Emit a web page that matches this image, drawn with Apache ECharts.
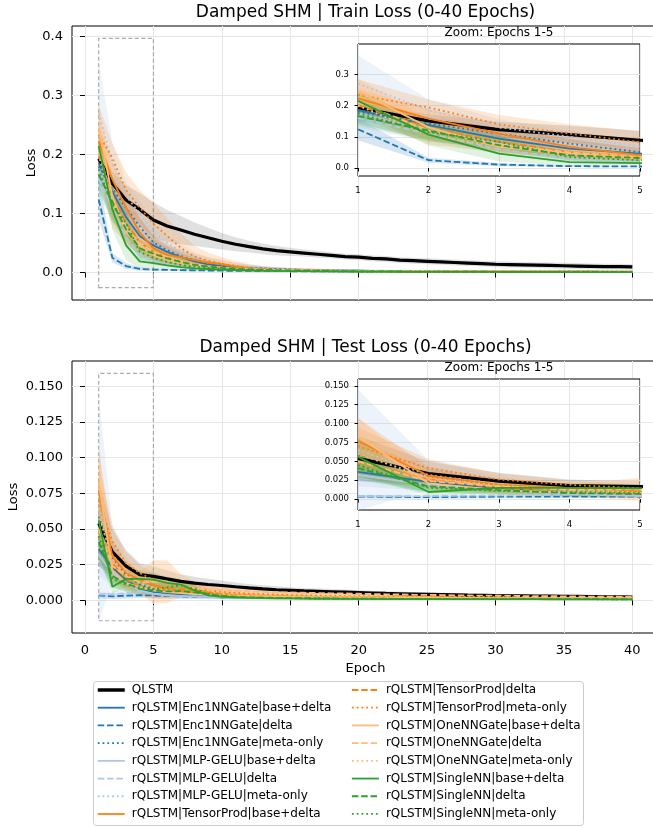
<!DOCTYPE html>
<html><head><meta charset="utf-8">
<script src="https://cdn.jsdelivr.net/npm/echarts@6/dist/echarts.min.js"></script>
<style>html,body{margin:0;padding:0;background:#fff}#c{width:653px;height:827px}</style>
</head><body><div id="c"></div>
<script>
// ---------------- DATA ----------------
const epochs = [1,2,3,4,5,6,7,8,9,10,11,12,13,14,15,16,17,18,19,20,21,22,23,24,25,26,27,28,29,30,31,32,33,34,35,36,37,38,39,40];
const NAMES = ['QLSTM','rQLSTM|Enc1NNGate|base+delta','rQLSTM|Enc1NNGate|delta','rQLSTM|Enc1NNGate|meta-only',
 'rQLSTM|MLP-GELU|base+delta','rQLSTM|MLP-GELU|delta','rQLSTM|MLP-GELU|meta-only','rQLSTM|TensorProd|base+delta',
 'rQLSTM|TensorProd|delta','rQLSTM|TensorProd|meta-only','rQLSTM|OneNNGate|base+delta','rQLSTM|OneNNGate|delta',
 'rQLSTM|OneNNGate|meta-only','rQLSTM|SingleNN|base+delta','rQLSTM|SingleNN|delta','rQLSTM|SingleNN|meta-only'];
const X_TICKS = [0,5,10,15,20,25,30,35,40];
const Y_TRAIN_TICKS = [0,0.1,0.2,0.3,0.4];
const Y_TEST_TICKS = [0,0.025,0.05,0.075,0.1,0.125,0.15];
const Y_TRAIN_ZOOM_TICKS = [0,0.1,0.2,0.3];
const Y_TEST_ZOOM_TICKS = [0,0.025,0.05,0.075,0.1,0.125,0.15];
const TRAIN_ZOOM_Y = [-0.0255,0.397];
const TEST_ZOOM_Y = [-0.0143,0.159];
const ZOOM_X = [1,5];

// ---- train loss (mean, sd) ----
const tr_QLSTM=[.193,.151,.123,.107,.089,.079,.072,.065,.059,.053,.048,.044,.040,.037,.035,.033,.031,.029,.027,.026,.024,.023,.021,.020,.019,.018,.017,.016,.015,.014,.0135,.013,.0125,.012,.0115,.011,.0105,.010,.010,.0095];
const trSd_QLSTM=[.018,.02,.025,.028,.03,.027,.024,.02,.017,.014,.012,.01,.009,.008,.007,.006,.006,.005,.005,.005,.005,.005,.005,.005,.005,.005,.005,.005,.005,.005,.005,.005,.005,.005,.005,.005,.005,.005,.005,.005];
const tr_EncBD=[.185,.137,.094,.062,.046,.035,.026,.019,.014,.011,.009,.0075,.0065,.0055,.005,.0045,.004,.0035,.0032,.003,.0028,.0026,.0024,.0022,.002,.002,.0019,.0018,.0017,.0016,.0016,.0015,.0015,.0014,.0014,.0013,.0013,.0012,.0012,.0012];
const trSd_EncBD=[.03,.02,.016,.013,.011,.009,.007,.006,.005,.004,.0035,.003,.0028,.0025,.0022,.002,.002,.0018,.0016,.0015,.0015,.0014,.0014,.0013,.0013,.0012,.0012,.0012,.0011,.0011,.0011,.001,.001,.001,.001,.001,.001,.001,.001,.001];
const tr_EncD=[.124,.025,.011,.006,.005,.0045,.004,.0037,.0034,.0031,.0029,.0027,.0025,.0023,.0022,.0021,.002,.0019,.0018,.0017,.0016,.0016,.0015,.0015,.0014,.0014,.0013,.0013,.0013,.0012,.0012,.0012,.0011,.0011,.0011,.001,.001,.001,.001,.001];
const trSd_EncD=[.035,.008,.005,.003,.0025,.002,.002,.0018,.0016,.0015,.0014,.0013,.0012,.0012,.0011,.0011,.001,.001,.001,.001,.001,.001,.001,.001,.001,.0009,.0009,.0009,.0009,.0009,.0009,.0009,.0008,.0008,.0008,.0008,.0008,.0008,.0008,.0008];
const tr_EncM=[.18,.142,.11,.078,.051,.038,.028,.021,.016,.012,.0095,.008,.0068,.0058,.005,.0045,.004,.0036,.0033,.003,.0028,.0026,.0024,.0022,.0021,.002,.0019,.0018,.0017,.0016,.0016,.0015,.0015,.0014,.0014,.0013,.0013,.0013,.0012,.0012];
const trSd_EncM=[.03,.022,.018,.015,.012,.01,.008,.006,.005,.004,.0035,.003,.0027,.0024,.0022,.002,.0019,.0018,.0017,.0016,.0015,.0014,.0014,.0013,.0013,.0012,.0012,.0012,.0011,.0011,.0011,.001,.001,.001,.001,.001,.001,.001,.001,.001];
const tr_MlpBD=[.175,.12,.078,.046,.03,.022,.016,.012,.009,.007,.006,.005,.0045,.004,.0035,.0032,.003,.0028,.0026,.0024,.0022,.002,.0019,.0018,.0017,.0016,.0015,.0015,.0014,.0014,.0013,.0013,.0012,.0012,.0012,.0011,.0011,.0011,.001,.001];
const trSd_MlpBD=[.035,.025,.018,.012,.009,.007,.006,.005,.004,.003,.0027,.0024,.0022,.002,.0019,.0018,.0017,.0016,.0015,.0014,.0014,.0013,.0013,.0012,.0012,.0011,.0011,.0011,.001,.001,.001,.001,.001,.001,.0009,.0009,.0009,.0009,.0009,.0009];
const tr_MlpD=[.16,.11,.06,.03,.02,.014,.01,.008,.0065,.0055,.0048,.0042,.0038,.0034,.003,.0028,.0026,.0024,.0022,.0021,.002,.0019,.0018,.0017,.0016,.0015,.0015,.0014,.0014,.0013,.0013,.0012,.0012,.0012,.0011,.0011,.0011,.001,.001,.001];
const trSd_MlpD=[.03,.025,.015,.01,.007,.005,.004,.003,.0025,.002,.0019,.0018,.0017,.0016,.0015,.0014,.0014,.0013,.0013,.0012,.0012,.0011,.0011,.0011,.001,.001,.001,.001,.001,.001,.0009,.0009,.0009,.0009,.0009,.0009,.0009,.0009,.0009,.0009];
const tr_MlpM=[.27,.185,.13,.10,.068,.05,.037,.027,.02,.015,.012,.0095,.008,.0068,.0058,.005,.0045,.004,.0037,.0034,.0031,.0029,.0027,.0025,.0024,.0022,.0021,.002,.0019,.0018,.0018,.0017,.0016,.0016,.0015,.0015,.0014,.0014,.0014,.0013];
const trSd_MlpM=[.09,.035,.025,.02,.017,.014,.011,.008,.006,.005,.004,.0035,.003,.0028,.0025,.0023,.0021,.002,.0019,.0018,.0017,.0016,.0015,.0015,.0014,.0014,.0013,.0013,.0012,.0012,.0012,.0011,.0011,.0011,.001,.001,.001,.001,.001,.001];
const tr_TpBD=[.223,.158,.11,.068,.041,.03,.026,.021,.017,.014,.01,.007,.0055,.0045,.004,.0036,.0033,.003,.0028,.0026,.0024,.0023,.0022,.0021,.002,.0019,.0019,.0018,.0018,.0017,.0017,.0016,.0016,.0016,.0015,.0015,.0015,.0015,.0014,.0014];
const trSd_TpBD=[.03,.03,.03,.025,.02,.016,.013,.011,.009,.008,.007,.006,.005,.004,.0035,.003,.003,.0025,.0025,.0025,.002,.002,.002,.002,.002,.0018,.0018,.0018,.0018,.0018,.0016,.0016,.0016,.0016,.0016,.0015,.0015,.0015,.0015,.0015];
const tr_TpD=[.20,.13,.084,.051,.035,.025,.018,.013,.01,.008,.0065,.0055,.0048,.0042,.0037,.0033,.003,.0028,.0026,.0024,.0022,.0021,.002,.0019,.0018,.0017,.0017,.0016,.0016,.0015,.0015,.0014,.0014,.0014,.0013,.0013,.0013,.0012,.0012,.0012];
const trSd_TpD=[.03,.025,.02,.015,.012,.009,.007,.005,.004,.0035,.003,.0027,.0024,.0022,.002,.0019,.0018,.0017,.0016,.0015,.0015,.0014,.0014,.0013,.0013,.0012,.0012,.0012,.0011,.0011,.0011,.001,.001,.001,.001,.001,.001,.001,.001,.001];
const tr_TpM=[.234,.194,.14,.11,.083,.062,.042,.027,.02,.015,.011,.008,.0058,.0048,.0042,.0037,.0034,.0031,.0029,.0027,.0026,.0025,.0024,.0023,.0022,.0021,.0021,.002,.002,.0019,.0019,.0018,.0018,.0018,.0017,.0017,.0017,.0016,.0016,.0016];
const trSd_TpM=[.05,.025,.03,.03,.035,.03,.025,.018,.014,.011,.009,.007,.005,.004,.0035,.003,.003,.0025,.0025,.0025,.0022,.0022,.002,.002,.002,.0019,.0019,.0018,.0018,.0018,.0017,.0017,.0016,.0016,.0016,.0015,.0015,.0015,.0015,.0015];
const tr_OneBD=[.246,.13,.068,.046,.03,.022,.016,.012,.009,.0075,.0063,.0054,.0047,.0041,.0036,.0032,.0029,.0027,.0025,.0023,.0021,.002,.0019,.0018,.0017,.0016,.0016,.0015,.0015,.0014,.0014,.0013,.0013,.0013,.0012,.0012,.0012,.0011,.0011,.0011];
const trSd_OneBD=[.04,.03,.02,.015,.01,.008,.006,.005,.004,.003,.0027,.0024,.0022,.002,.0019,.0018,.0017,.0016,.0015,.0014,.0014,.0013,.0013,.0012,.0012,.0011,.0011,.0011,.001,.001,.001,.001,.001,.001,.0009,.0009,.0009,.0009,.0009,.0009];
const tr_OneD=[.21,.12,.075,.05,.035,.026,.019,.014,.0105,.0085,.007,.006,.0052,.0045,.004,.0036,.0033,.003,.0028,.0026,.0024,.0023,.0022,.0021,.002,.0019,.0019,.0018,.0018,.0017,.0017,.0016,.0016,.0016,.0015,.0015,.0015,.0014,.0014,.0014];
const trSd_OneD=[.035,.03,.02,.015,.012,.009,.007,.005,.004,.0035,.003,.0027,.0024,.0022,.002,.0019,.0018,.0017,.0016,.0015,.0015,.0014,.0014,.0013,.0013,.0012,.0012,.0012,.0011,.0011,.0011,.001,.001,.001,.001,.001,.001,.001,.001,.001];
const tr_OneM=[.20,.105,.07,.045,.03,.022,.016,.012,.009,.0072,.006,.0051,.0044,.0039,.0035,.0031,.0028,.0026,.0024,.0022,.0021,.002,.0019,.0018,.0017,.0016,.0016,.0015,.0015,.0014,.0014,.0013,.0013,.0013,.0012,.0012,.0012,.0011,.0011,.0011];
const trSd_OneM=[.035,.03,.02,.015,.01,.008,.006,.005,.004,.003,.0027,.0024,.0022,.002,.0019,.0018,.0017,.0016,.0015,.0014,.0014,.0013,.0013,.0012,.0012,.0011,.0011,.0011,.001,.001,.001,.001,.001,.001,.0009,.0009,.0009,.0009,.0009,.0009];
const tr_SnBD=[.215,.107,.046,.019,.016,.012,.009,.007,.006,.005,.0043,.0037,.0032,.0028,.0025,.0022,.002,.0018,.0017,.0016,.0015,.0014,.0013,.0012,.0012,.0011,.0011,.001,.001,.001,.0009,.0009,.0009,.0009,.0008,.0008,.0008,.0008,.0008,.0007];
const trSd_SnBD=[.035,.035,.025,.012,.008,.006,.005,.004,.003,.0025,.0022,.002,.0018,.0016,.0015,.0014,.0013,.0012,.0012,.0011,.0011,.001,.001,.001,.001,.0009,.0009,.0009,.0009,.0009,.0008,.0008,.0008,.0008,.0008,.0008,.0007,.0007,.0007,.0007];
const tr_SnD=[.166,.12,.073,.041,.032,.024,.018,.013,.01,.008,.0065,.0055,.0047,.004,.0035,.0031,.0028,.0025,.0023,.0021,.0019,.0018,.0017,.0016,.0015,.0014,.0014,.0013,.0013,.0012,.0012,.0011,.0011,.0011,.001,.001,.001,.001,.0009,.0009];
const trSd_SnD=[.03,.03,.02,.015,.01,.008,.006,.005,.004,.003,.0027,.0024,.0022,.002,.0019,.0018,.0017,.0016,.0015,.0014,.0014,.0013,.0013,.0012,.0012,.0011,.0011,.0011,.001,.001,.001,.001,.001,.001,.0009,.0009,.0009,.0009,.0009,.0009];
const tr_SnM=[.175,.115,.084,.035,.025,.018,.013,.01,.008,.0063,.0052,.0044,.0038,.0033,.0029,.0026,.0023,.0021,.0019,.0018,.0017,.0016,.0015,.0014,.0013,.0013,.0012,.0012,.0011,.0011,.001,.001,.001,.001,.0009,.0009,.0009,.0009,.0008,.0008];
const trSd_SnM=[.03,.03,.02,.012,.009,.007,.005,.004,.003,.0025,.0022,.002,.0018,.0016,.0015,.0014,.0013,.0012,.0012,.0011,.0011,.001,.001,.001,.001,.0009,.0009,.0009,.0009,.0009,.0008,.0008,.0008,.0008,.0008,.0008,.0007,.0007,.0007,.0007];

// ---- test loss (mean, sd) ----
const te_QLSTM=[.054,.034,.024,.018,.0168,.015,.0133,.0121,.0111,.0104,.0095,.0087,.008,.0074,.007,.0066,.0063,.006,.0057,.0054,.0051,.0048,.0046,.0044,.0042,.004,.0038,.0036,.0035,.0033,.0032,.0031,.003,.0029,.0028,.0027,.0026,.0025,.0024,.0023];
const teSd_QLSTM=[.03,.016,.011,.008,.007,.006,.005,.0045,.004,.0035,.003,.0028,.0026,.0024,.0022,.002,.002,.0019,.0018,.0017,.0016,.0016,.0015,.0015,.0014,.0014,.0013,.0013,.0013,.0012,.0012,.0012,.0011,.0011,.0011,.001,.001,.001,.001,.001];
const te_EncBD=[.036,.023,.0145,.008,.006,.005,.0042,.0036,.0032,.0029,.0026,.0024,.0022,.002,.0019,.0018,.0017,.0016,.0016,.0015,.0015,.0014,.0014,.0014,.0013,.0013,.0013,.0012,.0012,.0012,.0012,.0011,.0011,.0011,.0011,.001,.001,.001,.001,.001];
const teSd_EncBD=[.012,.008,.005,.003,.0025,.002,.0018,.0016,.0015,.0014,.0013,.0012,.0011,.001,.001,.001,.0009,.0009,.0009,.0008,.0008,.0008,.0008,.0007,.0007,.0007,.0007,.0007,.0006,.0006,.0006,.0006,.0006,.0006,.0006,.0005,.0005,.0005,.0005,.0005];
const te_EncD=[.0035,.0027,.0033,.0036,.0034,.003,.0027,.0025,.0023,.0021,.002,.0019,.0018,.0017,.0016,.0016,.0015,.0015,.0014,.0014,.0013,.0013,.0013,.0012,.0012,.0012,.0011,.0011,.0011,.0011,.001,.001,.001,.001,.001,.001,.001,.0009,.0009,.0009];
const teSd_EncD=[.002,.002,.002,.002,.0018,.0015,.0013,.0012,.0011,.001,.001,.0009,.0009,.0008,.0008,.0008,.0007,.0007,.0007,.0007,.0006,.0006,.0006,.0006,.0006,.0006,.0005,.0005,.0005,.0005,.0005,.0005,.0005,.0005,.0005,.0005,.0005,.0004,.0004,.0004];
const te_EncM=[.059,.03,.018,.011,.008,.006,.005,.0042,.0036,.0032,.0029,.0026,.0024,.0022,.0021,.002,.0019,.0018,.0017,.0016,.0016,.0015,.0015,.0014,.0014,.0014,.0013,.0013,.0013,.0012,.0012,.0012,.0012,.0011,.0011,.0011,.0011,.001,.001,.001];
const teSd_EncM=[.02,.01,.006,.004,.003,.0025,.002,.0018,.0016,.0015,.0014,.0013,.0012,.0011,.001,.001,.001,.0009,.0009,.0009,.0008,.0008,.0008,.0008,.0007,.0007,.0007,.0007,.0007,.0006,.0006,.0006,.0006,.0006,.0006,.0006,.0006,.0005,.0005,.0005];
const te_MlpBD=[.032,.019,.012,.007,.0045,.0035,.003,.0027,.0024,.0022,.002,.0019,.0018,.0017,.0016,.0015,.0015,.0014,.0014,.0013,.0013,.0013,.0012,.0012,.0012,.0011,.0011,.0011,.0011,.001,.001,.001,.001,.001,.001,.0009,.0009,.0009,.0009,.0009];
const teSd_MlpBD=[.015,.008,.005,.004,.003,.0025,.002,.0018,.0016,.0015,.0014,.0013,.0012,.0011,.001,.001,.001,.0009,.0009,.0009,.0008,.0008,.0008,.0008,.0007,.0007,.0007,.0007,.0007,.0006,.0006,.0006,.0006,.0006,.0006,.0006,.0006,.0005,.0005,.0005];
const te_MlpD=[.004,.0042,.005,.006,.0045,.0035,.003,.0027,.0024,.0022,.002,.0019,.0018,.0017,.0016,.0015,.0015,.0014,.0014,.0013,.0013,.0012,.0012,.0012,.0011,.0011,.0011,.0011,.001,.001,.001,.001,.001,.0009,.0009,.0009,.0009,.0009,.0009,.0008];
const teSd_MlpD=[.002,.002,.003,.003,.003,.0025,.002,.0018,.0016,.0015,.0014,.0013,.0012,.0011,.001,.001,.001,.0009,.0009,.0009,.0008,.0008,.0008,.0008,.0007,.0007,.0007,.0007,.0007,.0006,.0006,.0006,.0006,.0006,.0006,.0006,.0006,.0005,.0005,.0005];
const te_MlpM=[.065,.032,.02,.012,.0085,.0065,.0052,.0044,.0038,.0034,.003,.0028,.0026,.0024,.0022,.0021,.002,.0019,.0018,.0018,.0017,.0016,.0016,.0015,.0015,.0015,.0014,.0014,.0014,.0013,.0013,.0013,.0012,.0012,.0012,.0012,.0011,.0011,.0011,.0011];
const teSd_MlpM=[.08,.02,.01,.006,.004,.003,.0025,.002,.0018,.0016,.0015,.0014,.0013,.0012,.0011,.001,.001,.001,.0009,.0009,.0009,.0008,.0008,.0008,.0008,.0007,.0007,.0007,.0007,.0007,.0006,.0006,.0006,.0006,.0006,.0006,.0006,.0006,.0005,.0005];
const te_TpBD=[.077,.031,.019,.0145,.0105,.008,.0062,.0052,.0045,.004,.0036,.0033,.003,.0028,.0026,.0025,.0024,.0023,.0022,.0021,.002,.002,.0019,.0019,.0018,.0018,.0018,.0017,.0017,.0017,.0016,.0016,.0016,.0016,.0015,.0015,.0015,.0015,.0015,.0014];
const teSd_TpBD=[.03,.012,.008,.006,.005,.004,.003,.0025,.0022,.002,.0018,.0016,.0015,.0014,.0013,.0012,.0012,.0011,.0011,.001,.001,.001,.001,.0009,.0009,.0009,.0009,.0009,.0008,.0008,.0008,.0008,.0008,.0008,.0008,.0007,.0007,.0007,.0007,.0007];
const te_TpD=[.049,.026,.015,.009,.0068,.0075,.0078,.007,.0055,.0045,.0039,.0034,.003,.0028,.0026,.0024,.0023,.0022,.0021,.002,.002,.0019,.0019,.0018,.0018,.0018,.0017,.0017,.0017,.0016,.0016,.0016,.0016,.0015,.0015,.0015,.0015,.0015,.0014,.0014];
const teSd_TpD=[.02,.01,.007,.005,.006,.006,.005,.004,.003,.0025,.0022,.002,.0018,.0016,.0015,.0014,.0013,.0012,.0012,.0011,.0011,.001,.001,.001,.001,.0009,.0009,.0009,.0009,.0009,.0008,.0008,.0008,.0008,.0008,.0008,.0007,.0007,.0007,.0007];
const te_TpM=[.07,.041,.026,.019,.0145,.012,.0098,.0082,.007,.006,.0053,.0047,.0043,.004,.0037,.0035,.0033,.0031,.003,.0029,.0028,.0027,.0027,.0026,.0026,.0025,.0025,.0024,.0024,.0024,.0023,.0023,.0023,.0022,.0022,.0022,.0022,.0021,.0021,.0021];
const teSd_TpM=[.025,.012,.008,.006,.005,.004,.0035,.003,.0028,.0025,.0022,.002,.0018,.0017,.0016,.0015,.0014,.0013,.0013,.0012,.0012,.0011,.0011,.0011,.001,.001,.001,.001,.001,.0009,.0009,.0009,.0009,.0009,.0009,.0008,.0008,.0008,.0008,.0008];
const te_OneBD=[.083,.021,.012,.009,.007,.0058,.005,.0044,.0039,.0035,.0032,.0029,.0027,.0025,.0024,.0023,.0022,.0021,.002,.002,.0019,.0019,.0018,.0018,.0018,.0017,.0017,.0017,.0016,.0016,.0016,.0016,.0015,.0015,.0015,.0015,.0015,.0014,.0014,.0014];
const teSd_OneBD=[.025,.008,.005,.004,.003,.0025,.002,.0018,.0016,.0015,.0014,.0013,.0012,.0011,.001,.001,.001,.0009,.0009,.0009,.0008,.0008,.0008,.0008,.0007,.0007,.0007,.0007,.0007,.0006,.0006,.0006,.0006,.0006,.0006,.0006,.0006,.0005,.0005,.0005];
const te_OneD=[.05,.024,.017,.0125,.013,.013,.0105,.0085,.0075,.0069,.0065,.0062,.0059,.0057,.0055,.0053,.0051,.0049,.0048,.0046,.0044,.0042,.0041,.0039,.0038,.0037,.0035,.0034,.0033,.0032,.0031,.003,.003,.0029,.0028,.0027,.0026,.0025,.0025,.0024];
const teSd_OneD=[.02,.01,.007,.008,.015,.015,.008,.005,.004,.003,.0025,.0022,.002,.0018,.0017,.0016,.0015,.0014,.0014,.0013,.0013,.0012,.0012,.0011,.0011,.0011,.001,.001,.001,.001,.0009,.0009,.0009,.0009,.0009,.0008,.0008,.0008,.0008,.0008];
const te_OneM=[.06,.028,.018,.012,.009,.0072,.006,.0051,.0044,.0039,.0035,.0032,.003,.0028,.0026,.0025,.0024,.0023,.0022,.0021,.0021,.002,.002,.0019,.0019,.0019,.0018,.0018,.0018,.0017,.0017,.0017,.0017,.0016,.0016,.0016,.0016,.0016,.0015,.0015];
const teSd_OneM=[.02,.01,.006,.004,.003,.0025,.002,.0018,.0016,.0015,.0014,.0013,.0012,.0011,.001,.001,.001,.0009,.0009,.0009,.0008,.0008,.0008,.0008,.0007,.0007,.0007,.0007,.0007,.0006,.0006,.0006,.0006,.0006,.0006,.0006,.0006,.0005,.0005,.0005];
const te_SnBD=[.056,.0095,.015,.015,.0145,.0123,.011,.007,.0035,.0025,.002,.0017,.0015,.0014,.0013,.0012,.0011,.0011,.001,.001,.001,.0009,.0009,.0009,.0009,.0009,.0008,.0008,.0008,.0008,.0008,.0008,.0008,.0007,.0007,.0007,.0007,.0007,.0007,.0007];
const teSd_SnBD=[.025,.005,.006,.006,.005,.004,.004,.003,.002,.0015,.0012,.001,.0009,.0008,.0008,.0007,.0007,.0007,.0006,.0006,.0006,.0006,.0005,.0005,.0005,.0005,.0005,.0005,.0005,.0005,.0004,.0004,.0004,.0004,.0004,.0004,.0004,.0004,.0004,.0004];
const te_SnD=[.041,.017,.012,.008,.007,.0062,.0065,.0055,.0042,.0032,.0026,.0022,.0019,.0017,.0016,.0015,.0014,.0013,.0012,.0012,.0011,.0011,.001,.001,.001,.001,.0009,.0009,.0009,.0009,.0009,.0008,.0008,.0008,.0008,.0008,.0008,.0008,.0007,.0007];
const teSd_SnD=[.015,.008,.006,.005,.004,.004,.004,.003,.002,.0015,.0012,.001,.0009,.0008,.0008,.0007,.0007,.0007,.0006,.0006,.0006,.0006,.0005,.0005,.0005,.0005,.0005,.0005,.0005,.0005,.0004,.0004,.0004,.0004,.0004,.0004,.0004,.0004,.0004,.0004];
const te_SnM=[.045,.015,.011,.009,.008,.009,.0105,.008,.0045,.003,.0024,.002,.0018,.0016,.0015,.0014,.0013,.0012,.0012,.0011,.0011,.001,.001,.001,.001,.0009,.0009,.0009,.0009,.0009,.0008,.0008,.0008,.0008,.0008,.0008,.0008,.0007,.0007,.0007];
const teSd_SnM=[.015,.006,.005,.004,.004,.004,.004,.003,.002,.0015,.0012,.001,.0009,.0008,.0008,.0007,.0007,.0007,.0006,.0006,.0006,.0006,.0005,.0005,.0005,.0005,.0005,.0005,.0005,.0005,.0004,.0004,.0004,.0004,.0004,.0004,.0004,.0004,.0004,.0004];

// ---------------- STYLE ----------------
const FONT = 'DejaVu Sans';
const GRID_COLOR = '#e6e6e6';
const DASHED = [6.5, 2.8];
const DOTTED = [1.8, 3];
const STYLES = [
  {color:'#000000', type:'solid', width:3.2, band:0.12},
  {color:'#1f77b4', type:'solid', width:1.8, band:0.18},
  {color:'#1f77b4', type:DASHED, width:1.8, band:0.18},
  {color:'#1f77b4', type:DOTTED, width:1.8, band:0.18},
  {color:'#aec7e8', type:'solid', width:1.8, band:0.22},
  {color:'#aec7e8', type:DASHED, width:1.8, band:0.22},
  {color:'#aec7e8', type:DOTTED, width:1.8, band:0.22},
  {color:'#ff7f0e', type:'solid', width:1.8, band:0.18},
  {color:'#ff7f0e', type:DASHED, width:1.8, band:0.18},
  {color:'#ff7f0e', type:DOTTED, width:1.8, band:0.18},
  {color:'#ffbb78', type:'solid', width:1.8, band:0.3},
  {color:'#ffbb78', type:DASHED, width:1.8, band:0.35},
  {color:'#ffbb78', type:DOTTED, width:1.8, band:0.3},
  {color:'#2ca02c', type:'solid', width:1.8, band:0.14},
  {color:'#2ca02c', type:DASHED, width:1.8, band:0.14},
  {color:'#2ca02c', type:DOTTED, width:1.8, band:0.14}
];

const SERIES = [
  [tr_QLSTM,trSd_QLSTM,te_QLSTM,teSd_QLSTM],
  [tr_EncBD,trSd_EncBD,te_EncBD,teSd_EncBD],
  [tr_EncD,trSd_EncD,te_EncD,teSd_EncD],
  [tr_EncM,trSd_EncM,te_EncM,teSd_EncM],
  [tr_MlpBD,trSd_MlpBD,te_MlpBD,teSd_MlpBD],
  [tr_MlpD,trSd_MlpD,te_MlpD,teSd_MlpD],
  [tr_MlpM,trSd_MlpM,te_MlpM,teSd_MlpM],
  [tr_TpBD,trSd_TpBD,te_TpBD,teSd_TpBD],
  [tr_TpD,trSd_TpD,te_TpD,teSd_TpD],
  [tr_TpM,trSd_TpM,te_TpM,teSd_TpM],
  [tr_OneBD,trSd_OneBD,te_OneBD,teSd_OneBD],
  [tr_OneD,trSd_OneD,te_OneD,teSd_OneD],
  [tr_OneM,trSd_OneM,te_OneM,teSd_OneM],
  [tr_SnBD,trSd_SnBD,te_SnBD,teSd_SnBD],
  [tr_SnD,trSd_SnD,te_SnD,teSd_SnD],
  [tr_SnM,trSd_SnM,te_SnM,teSd_SnM]
].map((a,i)=>({name:NAMES[i], train:a[0], trainSd:a[1], test:a[2], testSd:a[3]}));

function rgba(hex, a){
  const r=parseInt(hex.slice(1,3),16), g=parseInt(hex.slice(3,5),16), b=parseInt(hex.slice(5,7),16);
  return 'rgba('+r+','+g+','+b+','+a+')';
}

// ---------------- AXES ----------------
function xAx(grid, o){
  return Object.assign({
    gridIndex:grid, type:'value',
    axisLine:{show:false},
    axisTick:{show:true, inside:false, length:o.tickLen, customValues:o.ticks, lineStyle:{color:'#000', width:1}},
    axisLabel:{show:o.labels, customValues:o.ticks, color:'#000', fontSize:o.fs, fontFamily:FONT, margin:o.margin},
    splitLine:{show:true, lineStyle:{color:GRID_COLOR, width:1}},
    nameMoveOverlap:false,
    min:o.min, max:o.max
  }, o.extra||{});
}
function yAx(grid, o){
  return Object.assign({
    gridIndex:grid, type:'value',
    axisLine:{show:false},
    axisTick:{show:true, inside:false, length:o.tickLen, customValues:o.ticks, lineStyle:{color:'#000', width:1}},
    axisLabel:{show:true, customValues:o.ticks, color:'#000', fontSize:o.fs, fontFamily:FONT, margin:o.margin, formatter:v=>v.toFixed(o.dec)},
    splitLine:{show:true, lineStyle:{color:GRID_COLOR, width:1}},
    nameMoveOverlap:false,
    min:o.min, max:o.max
  }, o.extra||{});
}

const xAxis = [
  xAx(0,{min:-0.95,max:41.95,ticks:X_TICKS,labels:false,tickLen:5,fs:13,margin:10}),
  xAx(1,{min:-0.95,max:41.95,ticks:X_TICKS,labels:true,tickLen:5,fs:13,margin:11,
    extra:{name:'Epoch', nameLocation:'middle', nameGap:29, nameTextStyle:{fontSize:13,color:'#000',fontFamily:FONT}}}),
  xAx(2,{min:ZOOM_X[0],max:ZOOM_X[1],ticks:[1,2,3,4,5],labels:true,tickLen:3.5,fs:8.5,margin:10,extra:{z:6}}),
  xAx(3,{min:ZOOM_X[0],max:ZOOM_X[1],ticks:[1,2,3,4,5],labels:true,tickLen:3.5,fs:8.5,margin:10,extra:{z:6}})
];
const yAxis = [
  yAx(0,{min:-0.0466,max:0.418,ticks:Y_TRAIN_TICKS,tickLen:5,fs:13,margin:9,dec:1,
    extra:{name:'Loss', nameLocation:'middle', nameGap:34, nameTextStyle:{fontSize:13,color:'#000',fontFamily:FONT}}}),
  yAx(1,{min:-0.0229,max:0.1677,ticks:Y_TEST_TICKS,tickLen:5,fs:13,margin:9,dec:3,
    extra:{name:'Loss', nameLocation:'middle', nameGap:52, nameTextStyle:{fontSize:13,color:'#000',fontFamily:FONT}}}),
  yAx(2,{min:TRAIN_ZOOM_Y[0],max:TRAIN_ZOOM_Y[1],ticks:Y_TRAIN_ZOOM_TICKS,tickLen:3.5,fs:8.5,margin:9,dec:1,extra:{z:6}}),
  yAx(3,{min:TEST_ZOOM_Y[0],max:TEST_ZOOM_Y[1],ticks:Y_TEST_ZOOM_TICKS,tickLen:3.5,fs:8.5,margin:9,dec:3,extra:{z:6}})
];

// ---------------- SERIES ----------------
function bandRender(band, fill){
  return function(params, api){
    if (params.dataIndex !== 0) return null;
    const up = band.map(d => api.coord([d[0], d[2]]));
    const lo = band.map(d => api.coord([d[0], d[1]])).reverse();
    const cs = params.coordSys;
    return {type:'polygon', shape:{points:up.concat(lo)}, style:{fill:fill}, silent:true,
      clipPath:{type:'rect', shape:{x:cs.x, y:cs.y, width:cs.width, height:cs.height}}};
  };
}

const PANELS = [
  {ax:0, key:'train', inset:false, zoomY:TRAIN_ZOOM_Y},
  {ax:1, key:'test', inset:false, zoomY:TEST_ZOOM_Y},
  {ax:2, key:'train', inset:true},
  {ax:3, key:'test', inset:true}
];

const series = [];
PANELS.forEach(p => {
  SERIES.forEach((s, i) => {
    const st = STYLES[i];
    const mean = s[p.key], sd = s[p.key+'Sd'];
    const line = {
      type:'line', name:s.name, xAxisIndex:p.ax, yAxisIndex:p.ax,
      data: epochs.map((e,j)=>[e, mean[j]]),
      symbol:'none', showSymbol:false, clip:true, silent:true,
      lineStyle:{color:st.color, width:st.width, type:st.type},
      itemStyle:{color:st.color},
      emphasis:{disabled:true},
      z: p.inset ? 7 : 2
    };
    if (i === 0 && !p.inset) {
      line.markArea = {silent:true, label:{show:false},
        itemStyle:{color:'rgba(0,0,0,0)', borderColor:'#aaaaaa', borderWidth:1.2, borderType:[4,2.5]},
        data:[[{coord:[ZOOM_X[0], p.zoomY[0]]},{coord:[ZOOM_X[1], p.zoomY[1]]}]]};
    }
    series.push(line);
    const band = epochs.map((e,j)=>[e, mean[j]-sd[j], mean[j]+sd[j]]);
    series.push({
      type:'custom', name:'band:'+s.name, xAxisIndex:p.ax, yAxisIndex:p.ax,
      data: band, encode:{x:0, y:[1,2]}, silent:true,
      renderItem: bandRender(band, rgba(st.color, st.band)),
      z: p.inset ? 7 : 2
    });
  });
});

function legendItems(from, to){
  return NAMES.slice(from, to).map((n, k) => ({name:n, itemStyle:{opacity:0}, lineStyle:{width: from+k === 0 ? 3.5 : 1.8}}));
}
const legendCommon = {orient:'vertical', top:683, itemWidth:27, itemHeight:14, itemGap:3.71, padding:0,
  selectedMode:false, itemStyle:{opacity:0},
  textStyle:{fontSize:12, color:'#000', fontFamily:FONT, lineHeight:14, padding:[0,0,0,2]}};

const gridBase = {show:true, borderColor:'#000', borderWidth:1, outerBoundsMode:'none', containLabel:false};
const option = {
  animation:false,
  textStyle:{fontFamily:FONT},
  grid:[
    Object.assign({}, gridBase, {left:72, top:26, width:587, height:274, backgroundColor:'transparent'}),
    Object.assign({}, gridBase, {left:72, top:361, width:587, height:272, backgroundColor:'transparent'}),
    Object.assign({}, gridBase, {left:358, top:44, width:282, height:132, backgroundColor:'#ffffff', z:5}),
    Object.assign({}, gridBase, {left:358, top:379, width:282, height:131, backgroundColor:'#ffffff', z:5})
  ],
  xAxis, yAxis, series,
  legend:[
    Object.assign({}, legendCommon, {left:96, data:legendItems(0,8)}),
    Object.assign({}, legendCommon, {left:351, data:legendItems(8,16)})
  ],
  graphic:[
    {type:'rect', z:1, silent:true, shape:{x:93.5, y:681.5, width:490, height:144, r:3}, style:{fill:'#ffffff', stroke:'#cccccc', lineWidth:1}},
    {type:'text', z:10, silent:true, x:365.5, y:13, style:{text:'Damped SHM | Train Loss (0-40 Epochs)', fontSize:17, fontFamily:FONT, fill:'#000', align:'center', verticalAlign:'middle'}},
    {type:'text', z:10, silent:true, x:365.5, y:348, style:{text:'Damped SHM | Test Loss (0-40 Epochs)', fontSize:17, fontFamily:FONT, fill:'#000', align:'center', verticalAlign:'middle'}},
    {type:'text', z:10, silent:true, x:499, y:33, style:{text:'Zoom: Epochs 1-5', fontSize:12, fontFamily:FONT, fill:'#000', align:'center', verticalAlign:'middle'}},
    {type:'text', z:10, silent:true, x:499, y:368, style:{text:'Zoom: Epochs 1-5', fontSize:12, fontFamily:FONT, fill:'#000', align:'center', verticalAlign:'middle'}}
  ]
};

const chart = echarts.init(document.getElementById('c'), null, {renderer:'canvas'});
chart.setOption(option);
</script>
</body></html>
